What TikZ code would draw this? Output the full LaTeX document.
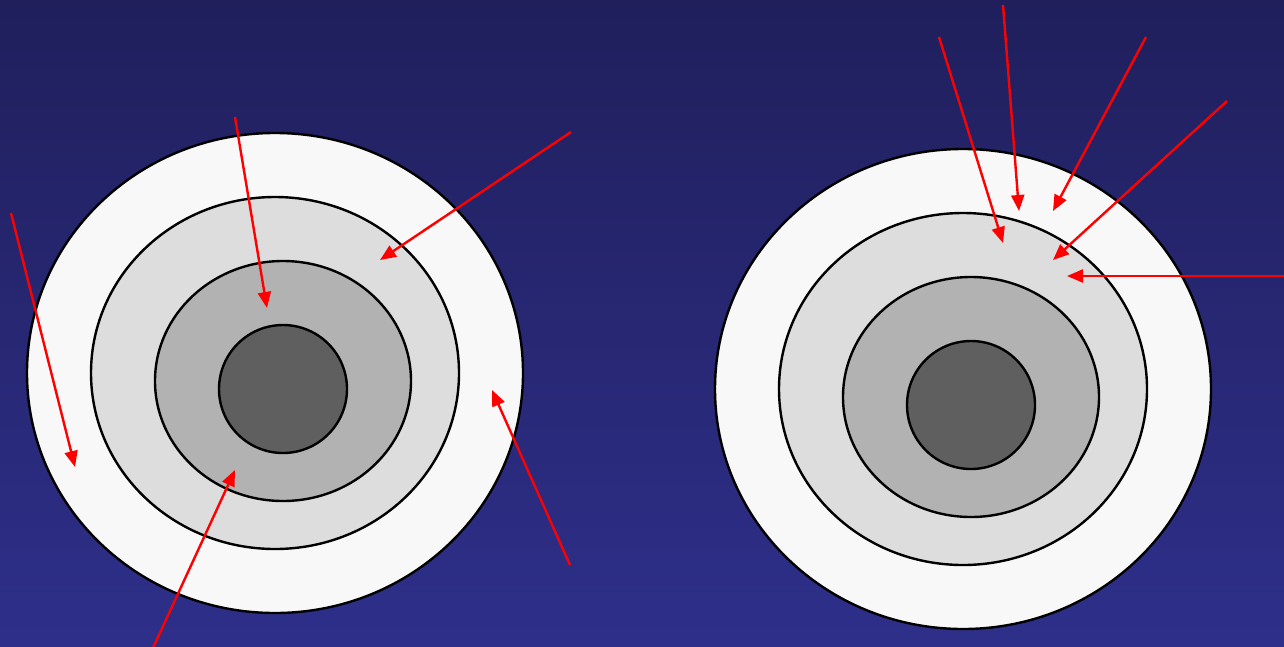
\documentclass[tikz,border=0pt]{standalone}
\usetikzlibrary{shapes.geometric,arrows.meta}
\definecolor{bgtop}{RGB}{32,31,92}
\definecolor{bgbot}{RGB}{46,47,138}
\definecolor{ringA}{RGB}{248,248,248}
\definecolor{ringB}{RGB}{221,221,221}
\definecolor{ringC}{RGB}{178,178,178}
\definecolor{ringD}{RGB}{95,95,95}
\definecolor{arrred}{RGB}{255,0,0}
\tikzset{
  ring/.style={ellipse, draw=black, line width=2.4pt, inner sep=0pt},
  core/.style={circle, draw=black, line width=2.4pt, inner sep=0pt, fill=ringD, minimum size=128pt},
  ray/.style={draw=arrred, line width=2.4pt, -{Triangle[length=16pt,width=13pt]}}
}
\begin{document}
\begin{tikzpicture}[x=1pt,y=-1pt]
\shade[top color=bgtop, bottom color=bgbot] (0,0) rectangle (1284,646);
\useasboundingbox (0,0) rectangle (1284,646);
% left target
\node[ring, fill=ringA, minimum width=496pt, minimum height=480pt] (L1) at (275,373) {};
\node[ring, fill=ringB, minimum width=368pt, minimum height=352pt] (L2) at (275,373) {};
\node[ring, fill=ringC, minimum width=256pt, minimum height=240pt] (L3) at (283,381) {};
\node[core] (L4) at (283,389) {};
% right target
\node[ring, fill=ringA, minimum width=496pt, minimum height=480pt] (R1) at (963,389) {};
\node[ring, fill=ringB, minimum width=368pt, minimum height=352pt] (R2) at (963,389) {};
\node[ring, fill=ringC, minimum width=256pt, minimum height=240pt] (R3) at (971,397) {};
\node[core] (R4) at (971,405) {};
% arrow endpoints
\coordinate (a1s) at (11,213);   \coordinate (a1e) at (75,467);
\coordinate (a2s) at (235,117);  \coordinate (a2e) at (267,308);
\coordinate (a3s) at (571,132);  \coordinate (a3e) at (380,260);
\coordinate (a4s) at (570,565);  \coordinate (a4e) at (492,390);
\coordinate (a5s) at (153,648);  \coordinate (a5e) at (235,470);
\coordinate (b1s) at (939,37);   \coordinate (b1e) at (1003,243);
\coordinate (b2s) at (1003,5);   \coordinate (b2e) at (1019,211);
\coordinate (b3s) at (1146,37);  \coordinate (b3e) at (1053,211);
\coordinate (b4s) at (1227,101); \coordinate (b4e) at (1053,260);
\coordinate (b5s) at (1286,276); \coordinate (b5e) at (1067,276);
\foreach \p in {a1,a2,a3,a4,a5,b1,b2,b3,b4,b5}
  \draw[ray] (\p s) -- (\p e);
\end{tikzpicture}
\end{document}
